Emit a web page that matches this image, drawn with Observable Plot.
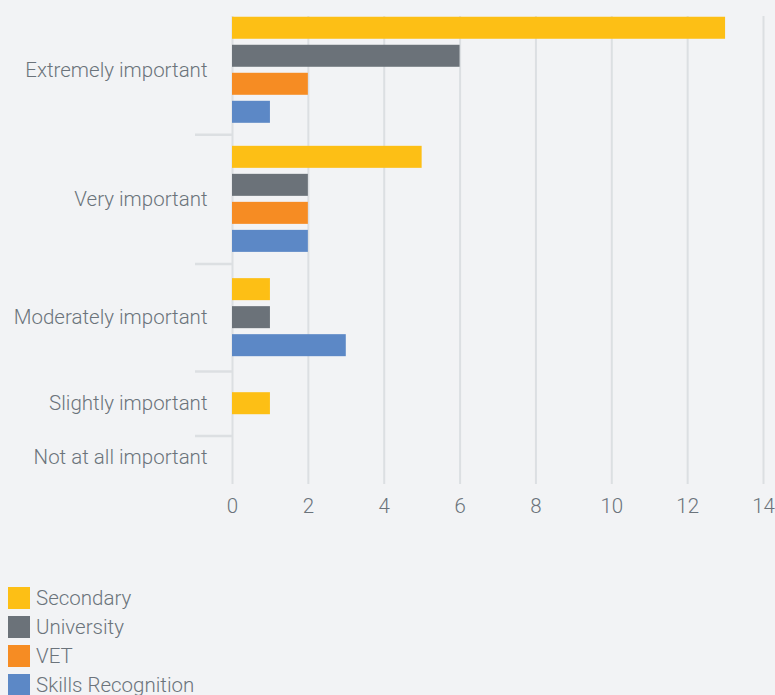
<!DOCTYPE html>
<html>
<head>
<meta charset="utf-8">
<script src="https://cdn.jsdelivr.net/npm/d3@7"></script>
<script src="https://cdn.jsdelivr.net/npm/@observablehq/plot@0.6"></script>
<style>
  html, body { margin: 0; padding: 0; background: #f2f3f5; }
  body { width: 775px; height: 695px; overflow: hidden; font-family: Roboto, "Liberation Sans", sans-serif; font-weight: 300; color: #6b737b; }
  #legend { padding-top: 61px; padding-left: 8px; }
  .item { display: flex; align-items: center; height: 29px; font-size: 20.5px; }
  .sw { width: 22px; height: 22px; margin-right: 6px; }
</style>
</head>
<body>
<div id="chart"></div>
<div id="legend"></div>
<script>
const categories = ["Extremely important", "Very important", "Moderately important", "Slightly important", "Not at all important"];
const seriesNames = ["Secondary", "University", "VET", "Skills Recognition"];
const secondary = [13, 5, 1, 1, 0];
const university = [6, 2, 1, 0, 0];
const vet = [2, 2, 0, 0, 0];
const skillsRecognition = [1, 2, 3, 0, 0];
const colors = ["#fdbf15", "#6b7279", "#f68c23", "#5c88c6"];
const xTicks = [0, 2, 4, 6, 8, 10, 12, 14];

const seriesValues = [secondary, university, vet, skillsRecognition];

// layout: each category band grows with its number of non-zero bars
const base = 43, perBar = 21.5, pitch = 28, barH = 22;
const bars = [], bands = [], boundaries = [];
let cursor = 0;
categories.forEach((cat, i) => {
  const present = seriesNames.map((s, j) => ({s, j, v: seriesValues[j][i]})).filter(d => d.v > 0);
  const h = base + perBar * present.length;
  const center = cursor + h / 2;
  bands.push({cat, center});
  const span = present.length * pitch - (pitch - barH);
  present.forEach((d, k) => {
    const top = center - span / 2 + k * pitch;
    bars.push({category: cat, series: d.s, value: d.v, y1: top, y2: top + barH});
  });
  cursor += h;
  if (i < categories.length - 1) boundaries.push(cursor);
});
const total = cursor;

const chart = Plot.plot({
  width: 775,
  height: 522,
  marginLeft: 232,
  marginRight: 12,
  marginTop: 16,
  marginBottom: 38,
  style: {background: "#f2f3f5", fontSize: "20.5px", fontFamily: "Roboto, 'Liberation Sans', sans-serif", fontWeight: 300, color: "#6b737b"},
  x: {domain: [0, 14], axis: null},
  y: {domain: [base / 4, total + 5.5], reverse: true, axis: null},
  color: {domain: seriesNames, range: colors},
  marks: [
    Plot.gridX(xTicks, {stroke: "#dcdfe2", strokeOpacity: 1, strokeWidth: 2}),
    Plot.axisX(xTicks, {tickSize: 0, tickPadding: 14, fill: "#6b737b", label: null}),
    Plot.axisY(boundaries, {tickSize: 37, tickFormat: () => "", stroke: "#dcdfe2", strokeWidth: 2.5, label: null}),
    Plot.rect(bars, {x1: 0, x2: "value", y1: "y1", y2: "y2", fill: "series"}),
    Plot.text(bands, {x: 0, y: "center", text: "cat", dx: -25, textAnchor: "end", fill: "#6b737b", fontSize: 20.5})
  ]
});
document.getElementById("chart").appendChild(chart);

const legend = document.getElementById("legend");
seriesNames.forEach((s, i) => {
  const item = document.createElement("div");
  item.className = "item";
  const sw = document.createElement("div");
  sw.className = "sw";
  sw.style.background = colors[i];
  const label = document.createElement("span");
  label.textContent = s;
  item.appendChild(sw);
  item.appendChild(label);
  legend.appendChild(item);
});
</script>
</body>
</html>
